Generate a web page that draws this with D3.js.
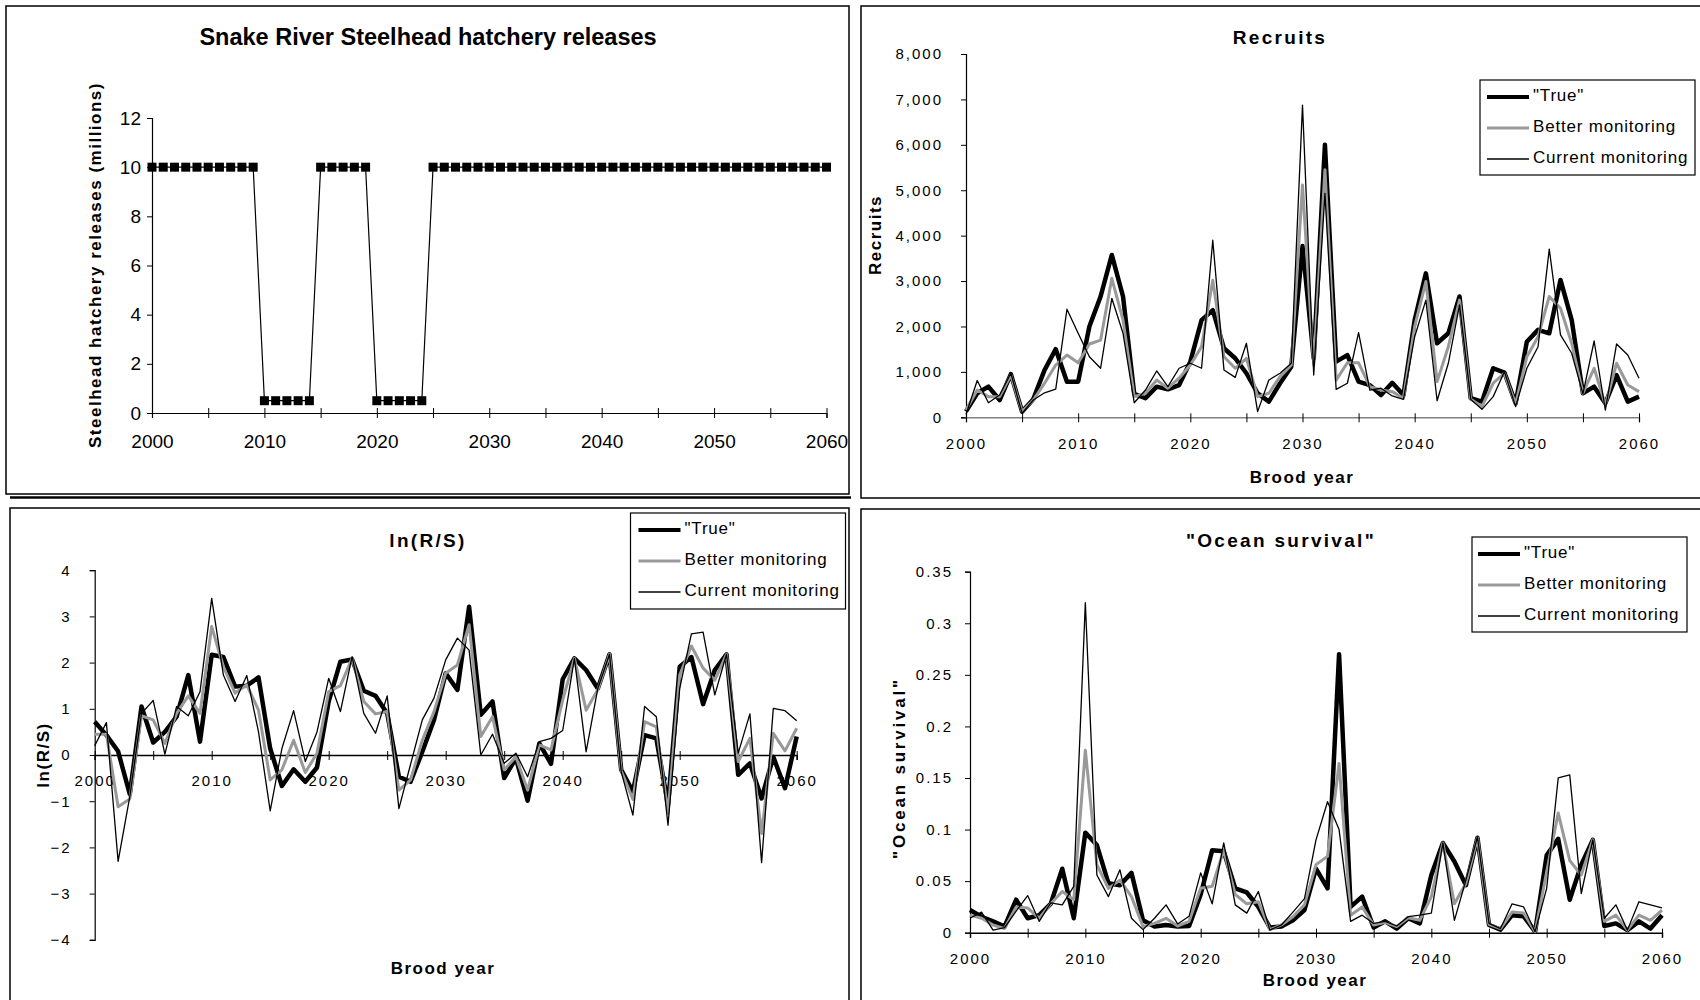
<!DOCTYPE html>
<html>
<head>
<meta charset="utf-8">
<script src="https://cdn.jsdelivr.net/npm/d3@7"></script>
<style>
  body { margin: 0; background: #fff; }
  svg { display: block; font-family: "Liberation Sans", Arial, sans-serif; }
</style>
</head>
<body>
<script>
// brood years 2000..2060
var years = d3.range(2000, 2061);

var releases = [10, 10, 10, 10, 10, 10, 10, 10, 10, 10,
  0.5, 0.5, 0.5, 0.5, 0.5, 10, 10, 10, 10, 10,
  0.5, 0.5, 0.5, 0.5, 0.5, 10, 10, 10, 10, 10,
  10, 10, 10, 10, 10, 10, 10, 10, 10, 10,
  10, 10, 10, 10, 10, 10, 10, 10, 10, 10,
  10, 10, 10, 10, 10, 10, 10, 10, 10, 10, 10];

var recruitsTrue = [130, 530, 675, 380, 950, 125, 400, 1040, 1500, 785,
  785, 2000, 2660, 3575, 2660, 515, 420, 675, 615, 710,
  1225, 2140, 2360, 1520, 1300, 970, 530, 345, 750, 1115,
  3770, 1300, 6000, 1225, 1370, 785, 710, 490, 760, 490,
  2140, 3170, 1630, 1850, 2660, 420, 345, 1080, 985, 310,
  1665, 1925, 1850, 3025, 2140, 530, 675, 310, 930, 345, 455];
var recruitsBetter = [160, 600, 455, 455, 930, 125, 380, 750, 1150, 1370,
  1200, 1615, 1700, 3060, 2140, 455, 530, 820, 640, 860,
  1150, 1555, 3020, 1335, 1080, 1300, 455, 530, 895, 1150,
  5115, 1150, 5450, 820, 1200, 1200, 675, 600, 565, 420,
  2000, 2990, 785, 1555, 2580, 395, 235, 750, 970, 290,
  1335, 1775, 2660, 2400, 1630, 530, 1080, 270, 1190, 710, 565];
var recruitsCurrent = [60, 810, 320, 490, 970, 90, 380, 540, 620, 2380,
  1850, 1335, 1080, 2620, 1850, 320, 600, 1020, 675, 1080,
  1190, 1080, 3900, 1040, 880, 1630, 125, 820, 970, 1190,
  6875, 930, 4930, 615, 750, 1865, 600, 640, 470, 395,
  1775, 2580, 365, 1190, 2475, 395, 175, 455, 1005, 235,
  1080, 1555, 3705, 1815, 1410, 515, 1680, 160, 1615, 1370, 860];

var lnrsTrue = [0.72, 0.43, 0.08, -0.85, 1.05, 0.27, 0.5, 0.83, 1.73, 0.29,
  2.17, 2.12, 1.48, 1.5, 1.68, 0.14, -0.67, -0.31, -0.58, -0.27,
  1.16, 2.02, 2.07, 1.39, 1.28, 0.9, -0.47, -0.58, 0.07, 0.76,
  1.77, 1.41, 3.21, 0.87, 1.16, -0.5, -0.07, -0.99, 0.25, -0.19,
  1.64, 2.09, 1.84, 1.44, 2.18, -0.32, -0.79, 0.43, 0.36, -1.08,
  1.91, 2.12, 1.1, 1.84, 2.18, -0.43, -0.18, -0.94, -0.04, -0.72, 0.4];
var lnrsBetter = [0.45, 0.45, -1.12, -0.95, 0.85, 0.76, 0.25, 0.9, 1.28, 0.9,
  2.78, 1.91, 1.34, 1.52, 0.97, -0.54, -0.32, 0.32, -0.38, 0.04,
  1.37, 1.5, 2.09, 1.16, 0.89, 0.94, -0.76, -0.54, 0.32, 0.94,
  1.77, 1.95, 2.82, 0.4, 0.83, -0.32, -0.04, -0.76, 0.22, 0.11,
  1.19, 2.09, 0.97, 1.41, 2.18, -0.34, -0.96, 0.72, 0.61, -1.26,
  1.73, 2.36, 1.88, 1.62, 2.18, -0.14, 0.36, -1.7, 0.47, 0.09, 0.58];
var lnrsCurrent = [0.2, 0.7, -2.3, -0.9, 0.9, 1.18, 0.02, 1.05, 0.85, 1.37,
  3.39, 1.73, 1.16, 1.72, 0.5, -1.21, 0.14, 0.96, -0.14, 0.5,
  1.66, 0.94, 2.13, 0.9, 0.47, 1.28, -1.16, -0.2, 0.76, 1.23,
  2.06, 2.53, 2.27, 0.0, 0.45, -0.18, 0.04, -0.47, 0.29, 0.36,
  0.53, 2.09, 0.07, 1.44, 2.18, -0.36, -1.3, 1.05, 0.83, -1.52,
  1.44, 2.62, 2.66, 1.3, 2.18, 0.04, 0.89, -2.33, 1.01, 0.96, 0.74];

var oceanTrue = [0.022, 0.0155, 0.011, 0.006, 0.032, 0.014, 0.017, 0.028, 0.062, 0.014,
  0.097, 0.085, 0.048, 0.046, 0.058, 0.012, 0.006, 0.0075, 0.006, 0.0065,
  0.037, 0.08, 0.079, 0.043, 0.039, 0.025, 0.005, 0.006, 0.012, 0.022,
  0.062, 0.043, 0.27, 0.025, 0.035, 0.005, 0.011, 0.004, 0.014, 0.009,
  0.056, 0.087, 0.069, 0.046, 0.092, 0.0075, 0.003, 0.017, 0.016, 0.001,
  0.075, 0.091, 0.032, 0.066, 0.09, 0.0065, 0.009, 0.0025, 0.011, 0.004, 0.017];
var oceanBetter = [0.017, 0.014, 0.0075, 0.004, 0.025, 0.024, 0.014, 0.028, 0.04, 0.032,
  0.177, 0.066, 0.043, 0.051, 0.035, 0.006, 0.009, 0.014, 0.0065, 0.011,
  0.043, 0.045, 0.08, 0.037, 0.028, 0.03, 0.003, 0.0075, 0.0155, 0.027,
  0.066, 0.074, 0.164, 0.017, 0.025, 0.0075, 0.01, 0.006, 0.0145, 0.012,
  0.035, 0.087, 0.028, 0.048, 0.092, 0.008, 0.004, 0.02, 0.019, 0.001,
  0.059, 0.116, 0.07, 0.056, 0.09, 0.011, 0.017, 0.0025, 0.017, 0.012, 0.022];
var oceanCurrent = [0.014, 0.02, 0.0025, 0.005, 0.021, 0.036, 0.011, 0.029, 0.027, 0.045,
  0.32, 0.056, 0.035, 0.061, 0.014, 0.003, 0.014, 0.027, 0.0085, 0.016,
  0.058, 0.028, 0.087, 0.027, 0.019, 0.04, 0.0025, 0.0075, 0.02, 0.033,
  0.09, 0.127, 0.1, 0.011, 0.017, 0.009, 0.011, 0.0065, 0.0155, 0.017,
  0.019, 0.087, 0.012, 0.051, 0.093, 0.009, 0.004, 0.028, 0.025, 0.001,
  0.043, 0.15, 0.153, 0.038, 0.09, 0.014, 0.027, 0.0025, 0.03, 0.027, 0.024];

var seriesNames = ['"True"', "Better monitoring", "Current monitoring"];
var seriesStyle = [
  {color: "#000", width: 4.5},
  {color: "#999", width: 3},
  {color: "#000", width: 1.3}
];

var svg = d3.select("body").append("svg")
    .attr("width", 1700)
    .attr("height", 1000);

// panel frames
function frame(x, y, w, h) {
  svg.append("rect")
    .attr("x", x).attr("y", y).attr("width", w).attr("height", h)
    .attr("fill", "none").attr("stroke", "#000").attr("stroke-width", 1.5);
}
frame(6, 6, 843, 488);
svg.append("line").attr("x1", 10).attr("x2", 851).attr("y1", 497.5).attr("y2", 497.5)
  .attr("stroke", "#000").attr("stroke-width", 2.5);
frame(861, 6, 860, 492);
frame(10, 508, 839, 520);
frame(861, 509, 860, 520);

function txt(x, y, s, size, opts) {
  opts = opts || {};
  var t = svg.append("text")
    .attr("x", x).attr("y", y)
    .attr("dy", "0.35em")
    .attr("text-anchor", opts.anchor || "middle")
    .style("font-size", size + "px")
    .style("font-weight", opts.bold ? "bold" : "normal")
    .style("letter-spacing", (opts.ls || 0) + "px")
    .text(s);
  if (opts.rotate) t.attr("transform", "rotate(-90," + x + "," + y + ")");
  return t;
}

// ---------- panel 1: hatchery releases ----------
var x1 = d3.scaleLinear().domain([2000, 2060]).range([152, 826.5]);
var y1 = d3.scaleLinear().domain([0, 12]).range([413, 118]);

svg.append("g")
  .attr("transform", "translate(152,0)")
  .call(d3.axisLeft(y1).tickValues([0, 2, 4, 6, 8, 10, 12]).tickSize(5).tickPadding(6))
  .call(function (g) {
    g.select(".domain").attr("stroke", "#000").attr("stroke-width", 1.2);
    g.selectAll("text").style("font-size", "19px").style("font-family", "Liberation Sans");
  });

svg.append("g")
  .attr("transform", "translate(0,413)")
  .call(d3.axisBottom(x1).tickValues(d3.range(2000, 2061, 5)).tickSize(5)
    .tickFormat(function (d) { return d % 10 === 0 ? d : ""; }))
  .call(function (g) {
    g.select(".domain").attr("stroke", "#000").attr("stroke-width", 1.2);
    g.selectAll(".tick line").attr("y1", -5).attr("y2", 5);
    g.selectAll("text").attr("y", 28).attr("dy", "0.35em")
      .style("font-size", "19px").style("font-family", "Liberation Sans");
  });

var line1 = d3.line()
  .x(function (d, i) { return x1(years[i]); })
  .y(function (d) { return y1(d); });

svg.append("path").datum(releases)
  .attr("d", line1).attr("fill", "none").attr("stroke", "#000").attr("stroke-width", 1.2);

svg.selectAll(".mk").data(releases).enter().append("rect")
  .attr("class", "mk")
  .attr("x", function (d, i) { return x1(years[i]) - 4.5; })
  .attr("y", function (d) { return y1(d) - 4.5; })
  .attr("width", 9).attr("height", 9)
  .attr("fill", "#000");

txt(428, 37, "Snake River Steelhead hatchery releases", 23.5, {bold: true});
txt(95, 265, "Steelhead hatchery releases (millions)", 17, {bold: true, ls: 1.5, rotate: true});

// ---------- generic monitoring panel ----------
function drawPanel(p) {
  var x = d3.scaleLinear().domain([2000, 2060]).range(p.xRange);
  var y = d3.scaleLinear().domain(p.yDomain).range(p.yRange);

  var yAxis = d3.axisLeft(y).tickValues(p.yTicks).tickSize(5).tickPadding(p.yPad)
    .tickFormat(p.yFormat);
  svg.append("g")
    .attr("transform", "translate(" + p.xRange[0] + ",0)")
    .call(yAxis)
    .call(function (g) {
      g.select(".domain").attr("stroke", "#000").attr("stroke-width", 1.2);
      g.selectAll("text").style("font-size", "15px").style("letter-spacing", "2px")
        .style("font-family", "Liberation Sans");
    });

  var xAxis = d3.axisBottom(x).tickValues(d3.range(2000, 2061, 5)).tickSize(5)
    .tickFormat(function (d) { return d % 10 === 0 ? d : ""; });
  svg.append("g")
    .attr("transform", "translate(0," + y(p.xAt) + ")")
    .call(xAxis)
    .call(function (g) {
      g.select(".domain").attr("stroke", p.xAxisColor).attr("stroke-width", 1.5);
      g.selectAll(".tick line").attr("y1", -4).attr("y2", 5).attr("stroke", "#000");
      g.selectAll("text").attr("y", p.xLabelDy).attr("dy", "0.35em")
        .style("font-size", "15px").style("letter-spacing", "2px")
        .style("font-family", "Liberation Sans");
    });

  var line = d3.line()
    .x(function (d, i) { return x(years[i]); })
    .y(function (d) { return y(d); });

  p.series.forEach(function (s, k) {
    svg.append("path").datum(s)
      .attr("d", line)
      .attr("fill", "none")
      .attr("stroke", seriesStyle[k].color)
      .attr("stroke-width", seriesStyle[k].width)
      .attr("stroke-linejoin", "round");
  });

  // legend
  var L = p.legend;
  svg.append("rect")
    .attr("x", L.x).attr("y", L.y).attr("width", L.w).attr("height", L.h)
    .attr("fill", "#fff").attr("stroke", "#000").attr("stroke-width", 1.2);
  seriesNames.forEach(function (name, k) {
    var ly = L.y + L.first + k * L.step;
    svg.append("line")
      .attr("x1", L.x + L.pad).attr("x2", L.x + L.pad + 42)
      .attr("y1", ly + 2).attr("y2", ly + 2)
      .attr("stroke", seriesStyle[k].color)
      .attr("stroke-width", Math.min(seriesStyle[k].width, 4));
    txt(L.x + L.pad + 46, ly, name, 17, {anchor: "start", ls: 0.8});
  });

  txt(p.title[0], p.title[1], p.title[2], 19, {bold: true, ls: 2.3});
  txt(p.ytitle[0], p.ytitle[1], p.ytitle[2], 17, {bold: true, ls: p.ytitle[3], rotate: true});
  txt(p.xtitle[0], p.xtitle[1], "Brood year", 17, {bold: true, ls: 1.5});
}

drawPanel({
  xRange: [966, 1639], yDomain: [0, 8000], yRange: [417.3, 54],
  yTicks: d3.range(0, 8001, 1000), yFormat: d3.format(","), yPad: 18,
  xAt: 0, xAxisColor: "#808080", xLabelDy: 26,
  series: [recruitsTrue, recruitsBetter, recruitsCurrent],
  legend: {x: 1480, y: 80, w: 215, h: 95, pad: 7, first: 15, step: 31},
  title: [1280, 37, "Recruits"],
  ytitle: [875, 235, "Recruits", 1.5],
  xtitle: [1302, 477]
});

drawPanel({
  xRange: [94.7, 796.7], yDomain: [-4, 4], yRange: [939.8, 570.2],
  yTicks: [-4, -3, -2, -1, 0, 1, 2, 3, 4], yFormat: d3.format("d"), yPad: 18,
  xAt: 0, xAxisColor: "#000", xLabelDy: 26,
  series: [lnrsTrue, lnrsBetter, lnrsCurrent],
  legend: {x: 630.5, y: 513, w: 215, h: 96, pad: 8, first: 15, step: 31},
  title: [428, 540, "ln(R/S)"],
  ytitle: [43, 755, "ln(R/S)", 1.5],
  xtitle: [443, 968]
});

drawPanel({
  xRange: [970, 1662], yDomain: [0, 0.35], yRange: [932.7, 571.7],
  yTicks: [0, 0.05, 0.1, 0.15, 0.2, 0.25, 0.3, 0.35], yFormat: function (d) { return d === 0 ? "0" : String(+d.toFixed(2)); }, yPad: 12,
  xAt: 0, xAxisColor: "#000", xLabelDy: 26,
  series: [oceanTrue, oceanBetter, oceanCurrent],
  legend: {x: 1472, y: 537, w: 215, h: 95, pad: 6, first: 15, step: 31},
  title: [1281, 540, '"Ocean survival"'],
  ytitle: [899, 768, '"Ocean survival"', 2.8],
  xtitle: [1315, 980]
});
</script>
</body>
</html>
